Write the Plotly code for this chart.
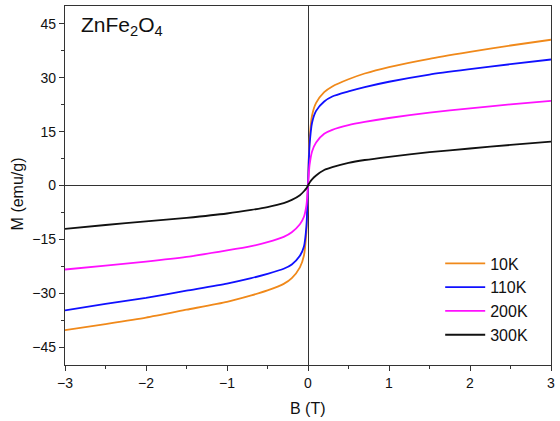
import plotly.graph_objects as go

B = [-3, -2.5, -2, -1.5, -1, -0.7, -0.5, -0.3, -0.2, -0.1, -0.05, -0.02, -0.01, 0,
     0.01, 0.02, 0.05, 0.1, 0.2, 0.3, 0.5, 0.7, 1, 1.5, 2, 2.5, 3]

M_10K = [-40.3, -38.6, -36.8, -34.6, -32.4, -30.6, -29.2, -27.4, -25.8, -22.8, -19.5, -13.0, -8.0, 0,
         8.0, 13.0, 19.5, 23.0, 26.0, 27.6, 29.6, 31.2, 33.0, 35.3, 37.2, 39.0, 40.6]
M_110K = [-34.8, -33.0, -31.3, -29.3, -27.3, -25.8, -24.6, -23.2, -22.0, -19.6, -17.0, -11.5, -7.0, 0,
          7.0, 11.5, 17.5, 20.8, 23.4, 24.8, 26.2, 27.4, 28.9, 30.9, 32.4, 33.8, 35.1]
M_200K = [-23.4, -22.3, -21.2, -19.9, -18.1, -16.9, -15.8, -14.3, -13.0, -10.8, -8.7, -5.6, -3.3, 0,
          3.3, 5.8, 9.5, 12.0, 14.4, 15.5, 16.8, 17.7, 18.8, 20.3, 21.5, 22.6, 23.6]
M_300K = [-12.1, -11.0, -10.0, -9.0, -7.8, -6.8, -6.0, -4.9, -4.0, -2.7, -1.6, -0.8, -0.4, 0,
          0.4, 0.8, 1.7, 2.8, 4.3, 5.1, 6.3, 7.1, 8.0, 9.3, 10.3, 11.3, 12.2]

series = [
    ("10K", M_10K, "#F0891A"),
    ("110K", M_110K, "#1010FF"),
    ("200K", M_200K, "#FF10FF"),
    ("300K", M_300K, "#111111"),
]

FONT = "Liberation Sans, Arial"

fig = go.Figure()
for name, m, color in series:
    fig.add_trace(go.Scatter(x=B, y=m, mode="lines", name=name,
                             line=dict(color=color, width=1.8, shape="spline", smoothing=0.6)))

axis_common = dict(
    showline=True, linecolor="#333333", linewidth=1.3, mirror=True,
    ticks="outside", ticklen=5, tickwidth=1.3, tickcolor="#333333",
    showgrid=False, zeroline=True, zerolinecolor="#333333", zerolinewidth=1.3,
    tickfont=dict(family=FONT, size=14, color="#111111"),
)

fig.update_xaxes(range=[-3, 3], dtick=1, tick0=0,
                 minor=dict(dtick=0.5, ticks="outside", ticklen=3, tickwidth=1.3, tickcolor="#333333"),
                 **axis_common)
fig.update_yaxes(range=[-50, 50], dtick=15, tick0=0,
                 minor=dict(dtick=7.5, ticks="outside", ticklen=3, tickwidth=1.3, tickcolor="#333333"),
                 **axis_common)

fig.add_annotation(x=0.028, y=0.985, xref="paper", yref="paper", xanchor="left", yanchor="top",
                   text="ZnFe<sub>2</sub>O<sub>4</sub>", showarrow=False,
                   font=dict(family=FONT, size=21, color="#111111"))
# axis titles
fig.add_annotation(x=(310 - 65) / 490, y=-(408 - 365) / 359, xref="paper", yref="paper",
                   xanchor="center", yanchor="middle", text="B (T)", showarrow=False,
                   font=dict(family=FONT, size=16, color="#111111"))
fig.add_annotation(x=(17 - 65) / 490, y=(365 - 194) / 359, xref="paper", yref="paper",
                   xanchor="center", yanchor="middle", text="M (emu/g)", showarrow=False,
                   textangle=-90, font=dict(family=FONT, size=16, color="#111111"))

fig.update_layout(
    width=560, height=421,
    margin=dict(l=65, r=5, t=6, b=56),
    plot_bgcolor="white", paper_bgcolor="white",
    legend=dict(x=0.772, y=0.035, xanchor="left", yanchor="bottom",
                bgcolor="rgba(0,0,0,0)", font=dict(family=FONT, size=16, color="#111111"),
                tracegroupgap=0, itemwidth=40),
    showlegend=True,
)

fig.write_html("out.html")
